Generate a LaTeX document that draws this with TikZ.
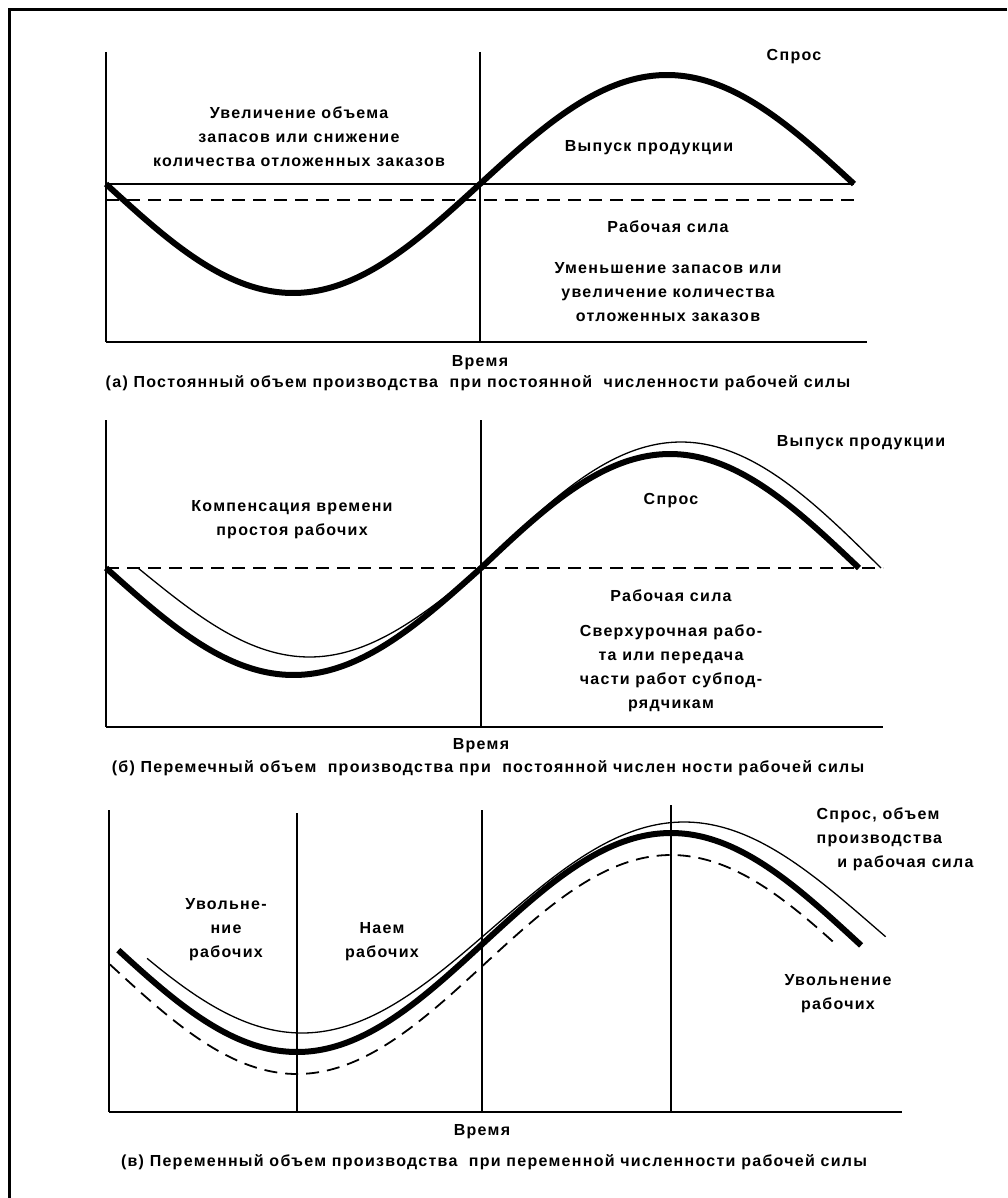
\documentclass[tikz,border=0pt]{standalone}
\usepackage{fontspec}
\setmainfont{Liberation Sans}[LetterSpace=8]
\usetikzlibrary{positioning}

\begin{document}
\begin{tikzpicture}[
            x=1pt, y=-1pt,
            lbl/.style={font=\bfseries\fontsize{16}{24}\selectfont, align=center, inner sep=0pt},
            axis/.style={line width=1.6pt},
            base/.style={line width=2.6pt},
            demand/.style={line width=6pt},
            output/.style={line width=1.3pt},
            workforce/.style={line width=2.4pt, dash pattern=on 13pt off 8pt}
        ]
            \useasboundingbox (0,0) rectangle (1007,1198);
            \draw[line width=3pt] (1007,10) -- (9,10) -- (9,1198);

            % (a)
            \coordinate (a-top) at (106,52);
            \coordinate (a-o) at (106,342);
            \coordinate (a-mtop) at (480,52);
            \coordinate (a-m) at (480,342);
            \coordinate (a-end) at (867,342);
            \draw[axis] (a-top) -- (a-o);
            \draw[axis] (a-mtop) -- (a-m);
            \draw[base] (a-o) -- (a-end);
            \draw[output] (106,184) -- (854,184);
            \draw[workforce] (106,200) -- (856,200);
            \draw[demand] plot[domain=0:360, samples=120, smooth] ({106+\x/360*748}, {184+109*sin(\x)});
            \node[lbl] (a-dem) at (794,57) {Спрос};
            \node[lbl] (a-inc) at (299,137) {Увеличение объема\\запасов или снижение\\количества отложенных заказов};
            \node[lbl] (a-out) at (649,148) {Выпуск продукции};
            \node[lbl] (a-wf) at (668,227) {Рабочая сила};
            \node[lbl, below=29pt of a-wf] (a-dec) {Уменьшение запасов или\\увеличение количества\\отложенных заказов};
            \node[lbl, below=13pt of a-m] (a-time) {Время};
            \node[lbl] (a-cap) at (478,383) {(а) Постоянный объем производства \ при постоянной \ численности рабочей силы};

            % (b)
            \coordinate (b-top) at (106,420);
            \coordinate (b-o) at (106,727);
            \coordinate (b-mtop) at (481,420);
            \coordinate (b-m) at (481,727);
            \coordinate (b-end) at (883,727);
            \draw[axis] (b-top) -- (b-o);
            \draw[axis] (b-mtop) -- (b-m);
            \draw[base] (b-o) -- (b-end);
            \draw[workforce] (106,568) -- (883,568);
            \draw[output] plot[domain=0:180, samples=60, smooth] ({138+\x/180*343}, {568+89*sin(\x)})
                -- plot[domain=180:360, samples=60, smooth] ({481+(\x-180)/180*400}, {568+126*sin(\x)});
            \draw[demand] plot[domain=0:180, samples=60, smooth] ({106+\x/180*375}, {568+107*sin(\x)})
                -- plot[domain=180:360, samples=60, smooth] ({481+(\x-180)/180*378}, {568+114*sin(\x)});
            \node[lbl] (b-out) at (861,443) {Выпуск продукции};
            \node[lbl] (b-comp) at (292,520) {Компенсация времени\\простоя рабочих};
            \node[lbl] (b-dem) at (671,501) {Спрос};
            \node[lbl] (b-wf) at (671,596) {Рабочая сила};
            \node[lbl, below=22pt of b-wf] (b-over) {Сверхурочная рабо-\\та или передача\\части работ субпод-\\рядчикам};
            \node[lbl, below=11pt of b-m] (b-time) {Время};
            \node[lbl] (b-cap) at (488,768) {(б) Перемечный объем \ производства при \ постоянной числен ности рабочей силы};

            % (c)
            \coordinate (c-top) at (109,810);
            \coordinate (c-o) at (109,1112);
            \coordinate (c-1top) at (297,813);
            \coordinate (c-1) at (297,1112);
            \coordinate (c-2top) at (482,810);
            \coordinate (c-2) at (482,1112);
            \coordinate (c-3top) at (671,805);
            \coordinate (c-3) at (671,1112);
            \coordinate (c-end) at (902,1112);
            \draw[axis] (c-top) -- (c-o);
            \draw[axis] (c-1top) -- (c-1);
            \draw[axis] (c-2top) -- (c-2);
            \draw[axis] (c-3top) -- (c-3);
            \draw[base] (c-o) -- (c-end);
            \draw[workforce, line width=1.8pt] plot[domain=-90:260, samples=120, smooth] ({297+\x/180*374}, {964.5+109.5*cos(\x)});
            \draw[output] plot[domain=-73:275, samples=120, smooth] ({302+\x/180*382}, {927.5+105.5*cos(\x)});
            \draw[demand] plot[domain=-86:271.5, samples=120, smooth] ({297+\x/180*374}, {942.5+109.5*cos(\x)});
            \node[lbl, align=left] (c-all) at (895,839) {Спрос, объем\\производства\\\hspace*{1.3em}и рабочая сила};
            \node[lbl] (c-fire) at (226,930) {Увольне-\\ние\\рабочих};
            \node[lbl] (c-hire) at (382,942) {Наем\\рабочих};
            \node[lbl] (c-fire2) at (838,994) {Увольнение\\рабочих};
            \node[lbl, below=12pt of c-2] (c-time) {Время};
            \node[lbl] (c-cap) at (494,1162) {(в) Переменный объем производства \ при переменной численности рабочей силы};
        \end{tikzpicture}
\end{document}
